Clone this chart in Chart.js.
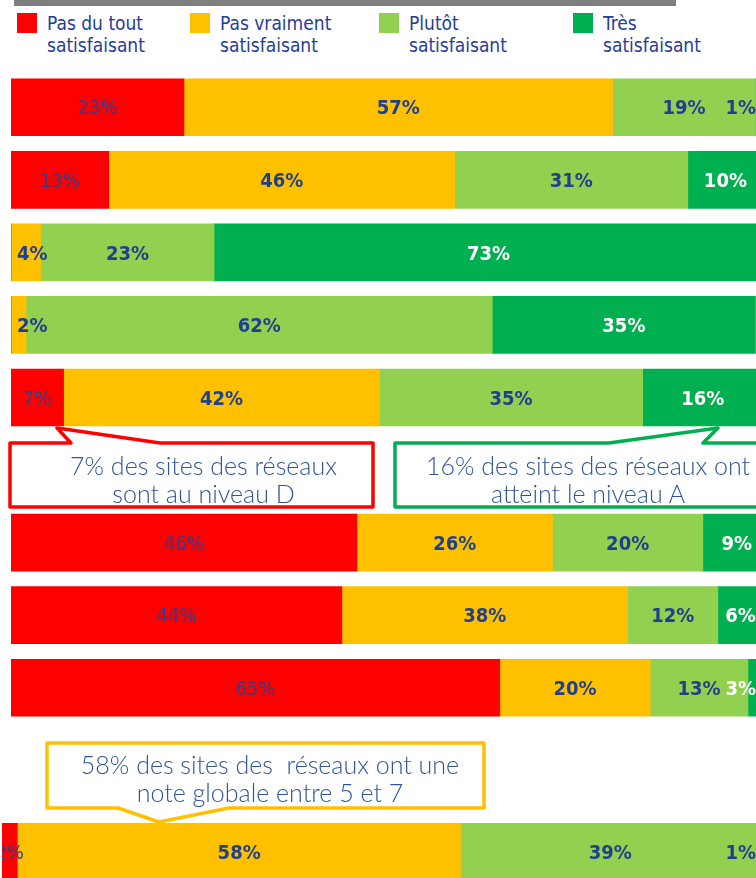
<!DOCTYPE html>
<html>
<head>
<meta charset="utf-8">
<script src="https://cdn.jsdelivr.net/npm/chart.js@4.4.1/dist/chart.umd.min.js"></script>
<style>
  html, body { margin: 0; padding: 0; background: #fff; }
  #wrap { position: relative; width: 756px; height: 878px; overflow: hidden; }
  .rule { position: absolute; left: 14px; top: 0; width: 662px; height: 6px; background: #7f7f7f; }
  .leg-item { position: absolute; top: 12px; }
  .leg-sw { position: absolute; left: 0; top: 1px; width: 20px; height: 20px; }
  .leg-txt { position: absolute; left: 30px; top: 0; white-space: nowrap; font: 19px/22px "DejaVu Sans Condensed", "DejaVu Sans", sans-serif; color: #1f3d99; }
  canvas { position: absolute; }
  #callouts { position: absolute; left: 0; top: 0; }
  .note { position: absolute; text-align: center; white-space: nowrap; font: 300 25px/28px Lato, "Open Sans", sans-serif; color: #2f5597; }
</style>
</head>
<body>
<div id="wrap">
  <div class="rule"></div>
  <div id="legend"></div>
  <canvas id="topChart" width="752" height="653" style="left:11px;top:71px;width:752px;height:653px"></canvas>
  <canvas id="bottomChart" width="765" height="57" style="left:2px;top:823px;width:765px;height:57px"></canvas>
  <svg id="callouts" width="756" height="878">
    <path d="M10,443 H71 L57,428 L160,443 H373 V507 H10 Z" fill="#fff" stroke="#ff0000" stroke-width="3.5" stroke-linejoin="round"/>
    <path d="M395,443 H609 L718,428 L703,443 H775 V507 H395 Z" fill="#fff" stroke="#00b050" stroke-width="3.5" stroke-linejoin="round"/>
    <path d="M47,743 H484 V808 H229 L159,822 L118,808 H47 Z" fill="#fff" stroke="#ffc000" stroke-width="3.5" stroke-linejoin="round"/>
  </svg>
  <div class="note" style="left:10px;top:451px;width:387px">7% des sites des réseaux<br>sont au niveau D</div>
  <div class="note" style="left:395px;top:451px;width:386px">16% des sites des réseaux ont<br>atteint le niveau A</div>
  <div class="note" style="left:47px;top:750px;width:446px">58% des sites des&nbsp; réseaux ont une<br>note globale entre 5 et 7</div>
</div>
<script>
// answer categories (legend), two lines each
const seriesNames = ['Pas du tout satisfaisant', 'Pas vraiment satisfaisant', 'Plutôt satisfaisant', 'Très satisfaisant'];
const legendLines = [['Pas du tout', 'satisfaisant'], ['Pas vraiment', 'satisfaisant'], ['Plutôt', 'satisfaisant'], ['Très', 'satisfaisant']];

// rows (labels are cut off in the picture)
const rowLabels = ['Critère 1', 'Critère 2', 'Critère 3', 'Critère 4', 'Critère 5', 'Critère 6', 'Critère 7', 'Critère 8', 'Note globale'];

// % per row
const pasDuTout   = [23, 13, 0, 0, 7, 46, 44, 65, 2];
const pasVraiment = [57, 46, 4, 2, 42, 26, 38, 20, 58];
const plutot      = [19, 31, 23, 62, 35, 20, 12, 13, 39];
const tres        = [1, 10, 73, 35, 16, 9, 6, 3, 1];

const seriesColors = ['#ff0000', '#ffc000', '#92d050', '#00b050'];
const DARK_BLUE = '#1f3f8f';
const labelStyle = [
    { color: '#2e3f8f', weight: 'normal' },
    { color: DARK_BLUE, weight: 'bold' },
    { color: DARK_BLUE, weight: 'bold' },
    { color: '#ffffff', weight: 'bold' },
];
const allSeries = [pasDuTout, pasVraiment, plutot, tres];

// legend
const legendLeft = [17, 190, 379, 573];
const legendEl = document.getElementById('legend');
legendLines.forEach((lines, i) => {
    const item = document.createElement('div');
    item.className = 'leg-item';
    item.style.left = legendLeft[i] + 'px';
    item.innerHTML = `<div class="leg-sw" style="background:${seriesColors[i]}"></div>
      <div class="leg-txt">${lines.join('<br>')}</div>`;
    legendEl.appendChild(item);
});

const VISIBLE_RIGHT = 756;

const segLabels = {
    id: 'segLabels',
    afterDatasetsDraw(chart, args, opts) {
        const ctx = chart.ctx;
        const visRight = VISIBLE_RIGHT - chart.canvas.offsetLeft;
        chart.data.datasets.forEach((ds, i) => {
            const meta = chart.getDatasetMeta(i);
            const st = labelStyle[i];
            meta.data.forEach((bar, j) => {
                const v = ds.data[j];
                if (!v) return;
                const txt = v + '%';
                ctx.save();
                ctx.font = `${st.weight} 20px "DejaVu Sans Condensed", "DejaVu Sans", sans-serif`;
                // segment pushed off the visible edge: label sits on the previous colour
                ctx.fillStyle = Math.min(bar.x, bar.base) > visRight - 4 ? DARK_BLUE : st.color;
                ctx.textAlign = 'center';
                ctx.textBaseline = 'middle';
                const w = ctx.measureText(txt).width;
                let cx = Math.min((bar.x + bar.base) / 2, visRight - w / 2);
                if (opts.clampLeft) cx = Math.max(cx, chart.chartArea.left + w / 2 + 6);
                ctx.fillText(txt, cx, bar.y + 2);
                ctx.restore();
            });
        });
    }
};

function makeChart(id, labels, rowIdx, clampLeft) {
    const datasets = allSeries.map((s, i) => ({
        label: seriesNames[i],
        data: rowIdx.map(r => r === null ? null : s[r]),
        backgroundColor: seriesColors[i],
        borderWidth: 0,
        barThickness: 57,
    }));
    return new Chart(document.getElementById(id), {
        type: 'bar',
        data: { labels, datasets },
        options: {
            indexAxis: 'y',
            responsive: false,
            animation: false,
            layout: { padding: 0 },
            plugins: {
                legend: { display: false },
                tooltip: { enabled: false },
                segLabels: { clampLeft }
            },
            scales: {
                x: { stacked: true, min: 0, max: 100, display: false },
                y: { stacked: true, display: false }
            }
        },
        plugins: [segLabels]
    });
}

// top block: rows 1-5, an empty slot where the callouts sit, rows 6-8
const topRows = [0, 1, 2, 3, 4, null, 5, 6, 7];
makeChart('topChart', topRows.map(r => r === null ? '' : rowLabels[r]), topRows, true);
makeChart('bottomChart', [rowLabels[8]], [8], false);
</script>
</body>
</html>
